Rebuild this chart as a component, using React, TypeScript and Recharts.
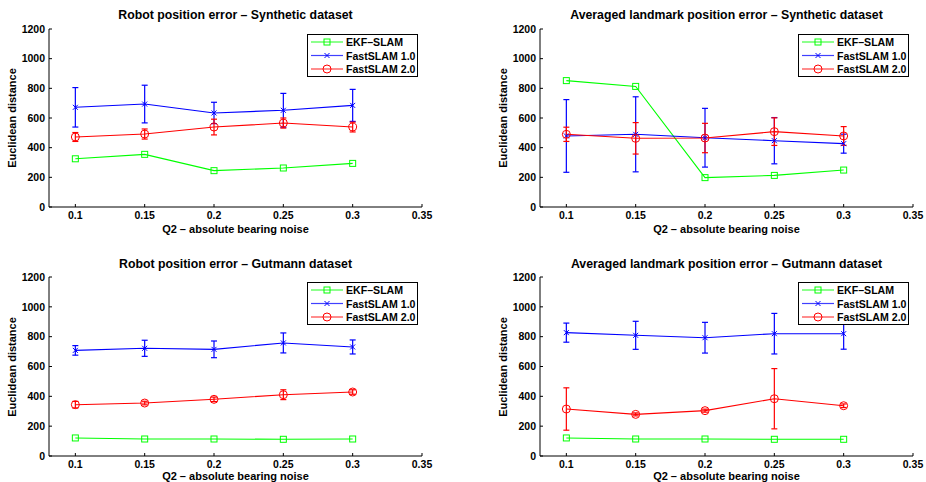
import React from "react";
import { ComposedChart, Line, XAxis, YAxis, ErrorBar } from "recharts";

const noise = [0.1, 0.15, 0.2, 0.25, 0.3];
const xTicks = [0.1, 0.15, 0.2, 0.25, 0.3, 0.35];
const yTicks = [0, 200, 400, 600, 800, 1000, 1200];
const seriesNames = ["EKF–SLAM", "FastSLAM 1.0", "FastSLAM 2.0"];
const xLabel = "Q2 – absolute bearing noise";
const yLabel = "Euclidean distance";

// robot position error - synthetic
const robotSynEkf = [325, 355, 245, 263, 294];
const robotSynFs1 = [672, 694, 634, 652, 685];
const robotSynFs1Err = [133, 127, 72, 114, 108];
const robotSynFs2 = [472, 492, 539, 566, 539];
const robotSynFs2Err = [30, 34, 53, 34, 33];

// landmark error - synthetic
const lmSynEkf = [852, 813, 198, 213, 249];
const lmSynFs1 = [479, 490, 467, 447, 427];
const lmSynFs1Err = [245, 253, 198, 156, 64];
const lmSynFs2 = [490, 463, 465, 508, 479];
const lmSynFs2Err = [48, 106, 99, 93, 63];

// robot position error - gutmann
const robotGutEkf = [121, 114, 114, 112, 114];
const robotGutFs1 = [708, 722, 715, 758, 731];
const robotGutFs1Err = [32, 54, 56, 67, 47];
const robotGutFs2 = [344, 355, 380, 411, 429];
const robotGutFs2Err = [22, 12, 15, 33, 15];

// landmark error - gutmann
const lmGutEkf = [121, 114, 114, 112, 112];
const lmGutFs1 = [827, 809, 793, 820, 820];
const lmGutFs1Err = [64, 94, 103, 136, 104];
const lmGutFs2 = [315, 279, 304, 384, 337];
const lmGutFs2Err = [142, 10, 10, 202, 12];

const GREEN = "#00ff00";
const BLUE = "#0000ff";
const RED = "#ff0000";
const FONT = "'Liberation Sans', Arial, Helvetica, sans-serif";

const W = 463;
const H = 241;

function squareDot(props: any) {
  const { cx, cy, index } = props;
  if (cx == null || cy == null) return <g key={index} />;
  return <rect key={index} x={cx - 3} y={cy - 3} width={6} height={6} fill="none" stroke={GREEN} strokeWidth={1} />;
}

function crossDot(props: any) {
  const { cx, cy, index } = props;
  if (cx == null || cy == null) return <g key={index} />;
  return (
    <g key={index} stroke={BLUE} strokeWidth={1}>
      <line x1={cx - 2.5} y1={cy - 2.5} x2={cx + 2.5} y2={cy + 2.5} />
      <line x1={cx - 2.5} y1={cy + 2.5} x2={cx + 2.5} y2={cy - 2.5} />
    </g>
  );
}

function circleDot(props: any) {
  const { cx, cy, index } = props;
  if (cx == null || cy == null) return <g key={index} />;
  return <circle key={index} cx={cx} cy={cy} r={4} fill="none" stroke={RED} strokeWidth={1} />;
}

function LegendBox({ left, top }: { left: number; top: number }) {
  const colors = [GREEN, BLUE, RED];
  const markers = [squareDot, crossDot, circleDot];
  return (
    <svg
      width={111}
      height={43}
      style={{ position: "absolute", left, top, overflow: "visible" }}
    >
      <rect x={0.5} y={0.5} width={110} height={42} fill="#fff" stroke="#000" strokeWidth={1} />
      {seriesNames.map((name, i) => {
        const y = 8 + i * 13.5;
        return (
          <g key={name}>
            <line x1={4} y1={y} x2={36} y2={y} stroke={colors[i]} strokeWidth={1.2} strokeOpacity={0.75} />
            {markers[i]({ cx: 20, cy: y, index: i })}
            <text x={39} y={y + 4} fontSize={10.6} fontWeight="bold" fontFamily={FONT} fill="#000">
              {name}
            </text>
          </g>
        );
      })}
    </svg>
  );
}

interface PanelProps {
  title: string;
  ekf: number[];
  fs1: number[];
  fs1Err: number[];
  fs2: number[];
  fs2Err: number[];
  left: number;
  top: number;
  plotLeft: number;
  plotTop: number;
  plotBottom: number;
  titleY: number;
  xLabelY: number;
  yLabelX: number;
  legendLeft: number;
  legendTop: number;
}

function Panel(p: PanelProps) {
  const data = noise.map((x, i) => ({
    x,
    ekf: p.ekf[i],
    fs1: p.fs1[i],
    fs1Err: p.fs1Err[i],
    fs2: p.fs2[i],
    fs2Err: p.fs2Err[i],
  }));
  const plotW = 373;
  const plotCenterX = p.plotLeft + plotW / 2;
  const plotCenterY = (p.plotTop + (H - p.plotBottom)) / 2;
  const tickStyle = { fontSize: 10.5, fontWeight: "bold", fill: "#000", fontFamily: FONT };
  const textStyle: React.CSSProperties = {
    position: "absolute",
    fontFamily: FONT,
    fontWeight: "bold",
    whiteSpace: "nowrap",
    color: "#000",
  };
  return (
    <div style={{ position: "absolute", left: p.left, top: p.top, width: W, height: H }}>
      <ComposedChart
        width={W}
        height={H}
        data={data}
        margin={{ top: p.plotTop, right: W - p.plotLeft - plotW, left: 0, bottom: 0 }}
      >
        <XAxis
          dataKey="x"
          type="number"
          domain={[0.081, 0.35]}
          ticks={xTicks}
          allowDataOverflow
          height={p.plotBottom}
          stroke="#000"
          tickSize={-3}
          tickMargin={8}
          tick={tickStyle}
        />
        <YAxis
          type="number"
          domain={[0, 1200]}
          ticks={yTicks}
          width={p.plotLeft}
          stroke="#000"
          tickSize={-3}
          tickMargin={7}
          tick={tickStyle}
        />
        <Line
          dataKey="ekf"
          stroke={GREEN}
          strokeWidth={1.1}
          dot={squareDot}
          activeDot={false}
          isAnimationActive={false}
        />
        <Line
          dataKey="fs1"
          stroke={BLUE}
          strokeWidth={1.1}
          dot={crossDot}
          activeDot={false}
          isAnimationActive={false}
        >
          <ErrorBar dataKey="fs1Err" direction="y" width={3} stroke={BLUE} strokeWidth={1.2} isAnimationActive={false} />
        </Line>
        <Line
          dataKey="fs2"
          stroke={RED}
          strokeWidth={1.1}
          dot={circleDot}
          activeDot={false}
          isAnimationActive={false}
        >
          <ErrorBar dataKey="fs2Err" direction="y" width={3} stroke={RED} strokeWidth={1.2} isAnimationActive={false} />
        </Line>
      </ComposedChart>
      <div style={{ ...textStyle, fontSize: 12.3, left: plotCenterX, top: p.titleY, transform: "translate(-50%, -50%)" }}>
        {p.title}
      </div>
      <div style={{ ...textStyle, fontSize: 11, left: plotCenterX, top: p.xLabelY, transform: "translate(-50%, -50%)" }}>
        {xLabel}
      </div>
      <div
        style={{
          ...textStyle,
          fontSize: 11,
          left: p.yLabelX,
          top: plotCenterY,
          transform: "translate(-50%, -50%) rotate(-90deg)",
        }}
      >
        {yLabel}
      </div>
      <LegendBox left={p.legendLeft} top={p.legendTop} />
    </div>
  );
}

export default function App() {
  return (
    <div
      style={{
        position: "fixed",
        left: 0,
        top: 0,
        width: 926,
        height: 482,
        background: "#fff",
        overflow: "hidden",
      }}
    >
      <Panel
        title="Robot position error – Synthetic dataset"
        ekf={robotSynEkf}
        fs1={robotSynFs1}
        fs1Err={robotSynFs1Err}
        fs2={robotSynFs2}
        fs2Err={robotSynFs2Err}
        left={0}
        top={0}
        plotLeft={49}
        plotTop={29}
        plotBottom={34}
        titleY={15}
        xLabelY={229}
        yLabelX={12}
        legendLeft={307}
        legendTop={34}
      />
      <Panel
        title="Averaged landmark position error – Synthetic dataset"
        ekf={lmSynEkf}
        fs1={lmSynFs1}
        fs1Err={lmSynFs1Err}
        fs2={lmSynFs2}
        fs2Err={lmSynFs2Err}
        left={463}
        top={0}
        plotLeft={77}
        plotTop={29}
        plotBottom={34}
        titleY={15}
        xLabelY={229}
        yLabelX={40}
        legendLeft={335}
        legendTop={34}
      />
      <Panel
        title="Robot position error – Gutmann dataset"
        ekf={robotGutEkf}
        fs1={robotGutFs1}
        fs1Err={robotGutFs1Err}
        fs2={robotGutFs2}
        fs2Err={robotGutFs2Err}
        left={0}
        top={241}
        plotLeft={49}
        plotTop={36}
        plotBottom={26}
        titleY={23}
        xLabelY={235}
        yLabelX={12}
        legendLeft={307}
        legendTop={41}
      />
      <Panel
        title="Averaged landmark position error – Gutmann dataset"
        ekf={lmGutEkf}
        fs1={lmGutFs1}
        fs1Err={lmGutFs1Err}
        fs2={lmGutFs2}
        fs2Err={lmGutFs2Err}
        left={463}
        top={241}
        plotLeft={77}
        plotTop={36}
        plotBottom={26}
        titleY={23}
        xLabelY={235}
        yLabelX={40}
        legendLeft={335}
        legendTop={41}
      />
    </div>
  );
}
